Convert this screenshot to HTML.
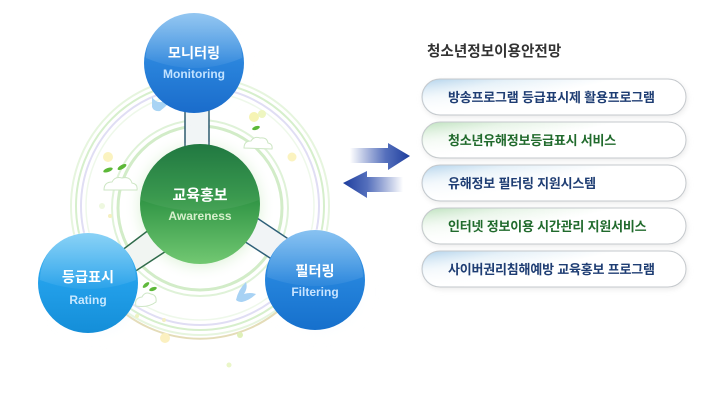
<!DOCTYPE html>
<html><head><meta charset="utf-8">
<style>
html,body{margin:0;padding:0;background:#fff;}
svg{display:block;}
text{font-family:"Liberation Sans","Noto Sans CJK KR",sans-serif;}
</style></head>
<body>
<svg width="720" height="410" viewBox="0 0 720 410" xmlns="http://www.w3.org/2000/svg">
<defs>
  <linearGradient id="gBlue1" x1="0" y1="0" x2="0" y2="1">
    <stop offset="0" stop-color="#5eaaea"/>
    <stop offset="0.5" stop-color="#2a84dc"/>
    <stop offset="1" stop-color="#1a6ccb"/>
  </linearGradient>
  <linearGradient id="gCyan" x1="0" y1="0" x2="0" y2="1">
    <stop offset="0" stop-color="#4cbaf2"/>
    <stop offset="0.5" stop-color="#23a0ea"/>
    <stop offset="1" stop-color="#148ed8"/>
  </linearGradient>
  <linearGradient id="gBlue2" x1="0" y1="0" x2="0" y2="1">
    <stop offset="0" stop-color="#4aa2ea"/>
    <stop offset="0.5" stop-color="#2584dc"/>
    <stop offset="1" stop-color="#1670cc"/>
  </linearGradient>
  <linearGradient id="gGreen" x1="0" y1="0" x2="0" y2="1">
    <stop offset="0" stop-color="#137036"/>
    <stop offset="0.45" stop-color="#2f9444"/>
    <stop offset="1" stop-color="#72c872"/>
  </linearGradient>
  <linearGradient id="gHi" x1="0" y1="0" x2="0" y2="1">
    <stop offset="0" stop-color="#fff" stop-opacity="0.35"/>
    <stop offset="1" stop-color="#fff" stop-opacity="0.05"/>
  </linearGradient>
  <radialGradient id="halo" cx="0.5" cy="0.5" r="0.5">
    <stop offset="0.75" stop-color="#e8f6e4" stop-opacity="1"/>
    <stop offset="1" stop-color="#ffffff" stop-opacity="0"/>
  </radialGradient>
  <radialGradient id="shB" cx="0.5" cy="0.5" r="0.5">
    <stop offset="0" stop-color="#9fd0f0" stop-opacity="0.7"/>
    <stop offset="1" stop-color="#ffffff" stop-opacity="0"/>
  </radialGradient>
  <linearGradient id="arR" x1="350" y1="0" x2="410" y2="0" gradientUnits="userSpaceOnUse">
    <stop offset="0" stop-color="#2a4aa8" stop-opacity="0"/>
    <stop offset="0.6" stop-color="#3655b0" stop-opacity="0.85"/>
    <stop offset="1" stop-color="#1c3c9c"/>
  </linearGradient>
  <linearGradient id="arL" x1="343" y1="0" x2="403" y2="0" gradientUnits="userSpaceOnUse">
    <stop offset="0" stop-color="#1c3c9c"/>
    <stop offset="0.4" stop-color="#3655b0" stop-opacity="0.85"/>
    <stop offset="1" stop-color="#2a4aa8" stop-opacity="0"/>
  </linearGradient>
  <linearGradient id="pillBlue" x1="0" y1="0" x2="1" y2="0.6">
    <stop offset="0" stop-color="#b4d4ec"/>
    <stop offset="0.25" stop-color="#e4f0f8"/>
    <stop offset="0.55" stop-color="#ffffff"/>
  </linearGradient>
  <linearGradient id="pillGreen" x1="0" y1="0" x2="1" y2="0.6">
    <stop offset="0" stop-color="#bfe2bf"/>
    <stop offset="0.25" stop-color="#e6f4e6"/>
    <stop offset="0.55" stop-color="#ffffff"/>
  </linearGradient>
  <linearGradient id="pillV" x1="0" y1="0" x2="0" y2="1">
    <stop offset="0" stop-color="#fff" stop-opacity="0"/>
    <stop offset="0.55" stop-color="#fff" stop-opacity="0.6"/>
    <stop offset="1" stop-color="#fff" stop-opacity="1"/>
  </linearGradient>
  <filter id="blur3" x="-50%" y="-50%" width="200%" height="200%"><feGaussianBlur stdDeviation="3"/></filter>
  <filter id="blur6" x="-50%" y="-50%" width="200%" height="200%"><feGaussianBlur stdDeviation="6"/></filter>
</defs>

<!-- background rings -->
<circle cx="200" cy="206" r="129" fill="none" stroke="#e6f5de" stroke-width="2"/>
<circle cx="200" cy="206" r="124" fill="none" stroke="#d6efcc" stroke-width="2"/>
<circle cx="200" cy="206" r="119" fill="none" stroke="#e0def4" stroke-width="2"/>
<circle cx="200" cy="206" r="114" fill="none" stroke="#eef8ea" stroke-width="1.5"/>
<path d="M 110 300 A 124 124 0 0 0 290 300" fill="none" stroke="#e4dcb8" stroke-width="2"/>
<circle cx="200" cy="208" r="88" fill="none" stroke="#dff2d8" stroke-width="2"/>
<circle cx="200" cy="208" r="82" fill="none" stroke="#d2ecc8" stroke-width="3"/>
<circle cx="200" cy="206" r="76" fill="url(#halo)"/>

<!-- decorations: dots -->
<circle cx="108" cy="157" r="5" fill="#fbf3c0"/>
<circle cx="292" cy="157" r="4.5" fill="#fbf3c0"/>
<circle cx="254" cy="117" r="5" fill="#f6f4b4"/>
<circle cx="262" cy="114" r="4" fill="#eef6c0"/>
<circle cx="102" cy="206" r="3" fill="#eef8e0"/>
<circle cx="110" cy="216" r="2" fill="#f6f0c0"/>
<circle cx="137" cy="316" r="2" fill="#eef4c0"/>
<circle cx="165" cy="338" r="5" fill="#fbf0c0"/>
<circle cx="164" cy="320" r="2" fill="#f4eec4"/>
<circle cx="240" cy="335" r="3" fill="#dff0b8"/>
<circle cx="229" cy="365" r="2.5" fill="#eaf6c8"/>

<!-- clouds & sprouts -->
<g fill="#fff" stroke="#cde6c4" stroke-width="1">
  <path d="M104 190 q0 -8 8 -8 q3 -6 10 -4 q8 -2 10 5 q6 1 5 7 z"/>
  <path d="M244 148 q0 -7 7 -7 q3 -5 9 -3 q7 -1 8 5 q5 1 4 6 z"/>
  <path d="M136 306 q-2 -8 6 -9 q3 -6 9 -3 q6 1 5 8 q-8 6 -20 4 z"/>
</g>
<g fill="#5cb838">
  <ellipse cx="108" cy="170" rx="5" ry="2" transform="rotate(-20 108 170)"/>
  <ellipse cx="122" cy="167" rx="5" ry="2" transform="rotate(-30 122 167)"/>
  <ellipse cx="256" cy="128" rx="4" ry="1.8" transform="rotate(-20 256 128)"/>
  <ellipse cx="146" cy="285" rx="4" ry="1.8" transform="rotate(-40 146 285)"/>
  <ellipse cx="153" cy="289" rx="4" ry="1.8" transform="rotate(-20 153 289)"/>
</g>
<!-- birds -->
<path d="M152 97 q4 6 10 5 q4 -4 10 -3 q-4 6 -12 12 q-6 1 -8 -4 z" fill="#a8d4f4"/>
<path d="M236 300 q2 -10 10 -18 q2 6 -2 12 q6 -2 12 0 q-6 6 -14 8 q-4 0 -6 -2 z" fill="#a8d2f4"/>

<!-- connectors -->
<polygon points="185,108 209,108 209,150 185,150" fill="#f1f5f6"/>
<line x1="185" y1="108" x2="185" y2="150" stroke="#2d5a6e" stroke-width="1.5"/>
<line x1="209" y1="108" x2="209" y2="150" stroke="#2d5a6e" stroke-width="1.5"/>

<polygon points="100,266.75 170,214 180,242 110,287.7" fill="#f1f5f2"/>
<line x1="100" y1="266.75" x2="170" y2="214" stroke="#2f6a4a" stroke-width="1.5"/>
<line x1="110" y1="287.7" x2="180" y2="242" stroke="#2f6a4a" stroke-width="1.5"/>

<polygon points="230,200 300,246.7 290,271 230,232" fill="#f1f4f6"/>
<line x1="230" y1="200" x2="300" y2="246.7" stroke="#2e5f78" stroke-width="1.5"/>
<line x1="230" y1="232" x2="290" y2="271" stroke="#2e5f78" stroke-width="1.5"/>

<!-- shadows -->
<ellipse cx="200" cy="70" rx="48" ry="48" fill="url(#shB)" filter="url(#blur6)"/>
<ellipse cx="96" cy="295" rx="50" ry="46" fill="url(#shB)" filter="url(#blur6)"/>
<ellipse cx="320" cy="292" rx="50" ry="46" fill="url(#shB)" filter="url(#blur6)"/>

<!-- Monitoring -->
<circle cx="194" cy="63" r="50" fill="url(#gBlue1)"/>
<path d="M146 58 A 48 48 0 0 1 242 58 Q 194 78 146 58 z" fill="url(#gHi)"/>
<text x="194" y="58" text-anchor="middle" font-size="14.2" font-weight="bold" fill="#fff">모니터링</text>
<text x="194" y="78" text-anchor="middle" font-size="12" font-weight="bold" fill="#c2e2ff">Monitoring</text>

<!-- Awareness -->
<circle cx="200" cy="204" r="60" fill="url(#gGreen)"/>
<path d="M141 200 A 59 59 0 0 1 259 200 Q 200 222 141 200 z" fill="#fff" fill-opacity="0.06"/>
<text x="200" y="200" text-anchor="middle" font-size="15" font-weight="bold" fill="#fff">교육홍보</text>
<text x="200" y="220" text-anchor="middle" font-size="12" font-weight="bold" fill="#d6f0cc">Awareness</text>

<!-- Rating -->
<circle cx="88" cy="283" r="50" fill="url(#gCyan)"/>
<path d="M40 280 A 48 48 0 0 1 136 280 Q 88 298 40 280 z" fill="url(#gHi)"/>
<text x="88" y="282" text-anchor="middle" font-size="14.2" font-weight="bold" fill="#fff">등급표시</text>
<text x="88" y="304" text-anchor="middle" font-size="12" font-weight="bold" fill="#c8e8ff">Rating</text>

<!-- Filtering -->
<circle cx="315" cy="280" r="50" fill="url(#gBlue2)"/>
<path d="M267 277 A 48 48 0 0 1 363 277 Q 315 295 267 277 z" fill="url(#gHi)"/>
<text x="315" y="276" text-anchor="middle" font-size="14.2" font-weight="bold" fill="#fff">필터링</text>
<text x="315" y="296" text-anchor="middle" font-size="12" font-weight="bold" fill="#c8e4ff">Filtering</text>

<!-- arrows -->
<polygon points="350,148 388,148 388,143 410,156 388,170 388,163 350,163" fill="url(#arR)"/>
<polygon points="343,183 367,171 367,177 403,177 403,192 367,192 367,198" fill="url(#arL)"/>

<!-- title -->
<text x="427" y="56" font-size="14.6" font-weight="bold" fill="#333">청소년정보이용안전망</text>

<!-- pills -->
<g>
  <rect x="423" y="81" width="264" height="36" rx="18" fill="#e8e8e8" filter="url(#blur3)"/>
  <rect x="422" y="79" width="264" height="36" rx="18" fill="url(#pillBlue)" stroke="#c4c8cc"/>
  <rect x="423" y="80" width="262" height="34" rx="17" fill="url(#pillV)"/>
  <text x="448" y="102" font-size="13" font-weight="bold" fill="#1e3d73" letter-spacing="-0.2">방송프로그램 등급표시제 활용프로그램</text>

  <rect x="423" y="124" width="264" height="36" rx="18" fill="#e8e8e8" filter="url(#blur3)"/>
  <rect x="422" y="122" width="264" height="36" rx="18" fill="url(#pillGreen)" stroke="#c4c8cc"/>
  <rect x="423" y="123" width="262" height="34" rx="17" fill="url(#pillV)"/>
  <text x="448" y="145" font-size="13" font-weight="bold" fill="#206a2c" letter-spacing="-0.2">청소년유해정보등급표시 서비스</text>

  <rect x="423" y="167" width="264" height="36" rx="18" fill="#e8e8e8" filter="url(#blur3)"/>
  <rect x="422" y="165" width="264" height="36" rx="18" fill="url(#pillBlue)" stroke="#c4c8cc"/>
  <rect x="423" y="166" width="262" height="34" rx="17" fill="url(#pillV)"/>
  <text x="448" y="188" font-size="13" font-weight="bold" fill="#1e3d73" letter-spacing="-0.2">유해정보 필터링 지원시스템</text>

  <rect x="423" y="210" width="264" height="36" rx="18" fill="#e8e8e8" filter="url(#blur3)"/>
  <rect x="422" y="208" width="264" height="36" rx="18" fill="url(#pillGreen)" stroke="#c4c8cc"/>
  <rect x="423" y="209" width="262" height="34" rx="17" fill="url(#pillV)"/>
  <text x="448" y="231" font-size="13" font-weight="bold" fill="#206a2c" letter-spacing="-0.2">인터넷 정보이용 시간관리 지원서비스</text>

  <rect x="423" y="253" width="264" height="36" rx="18" fill="#e8e8e8" filter="url(#blur3)"/>
  <rect x="422" y="251" width="264" height="36" rx="18" fill="url(#pillBlue)" stroke="#c4c8cc"/>
  <rect x="423" y="252" width="262" height="34" rx="17" fill="url(#pillV)"/>
  <text x="448" y="274" font-size="13" font-weight="bold" fill="#1e3d73" letter-spacing="-0.2">사이버권리침해예방 교육홍보 프로그램</text>
</g>
</svg>
</body></html>
